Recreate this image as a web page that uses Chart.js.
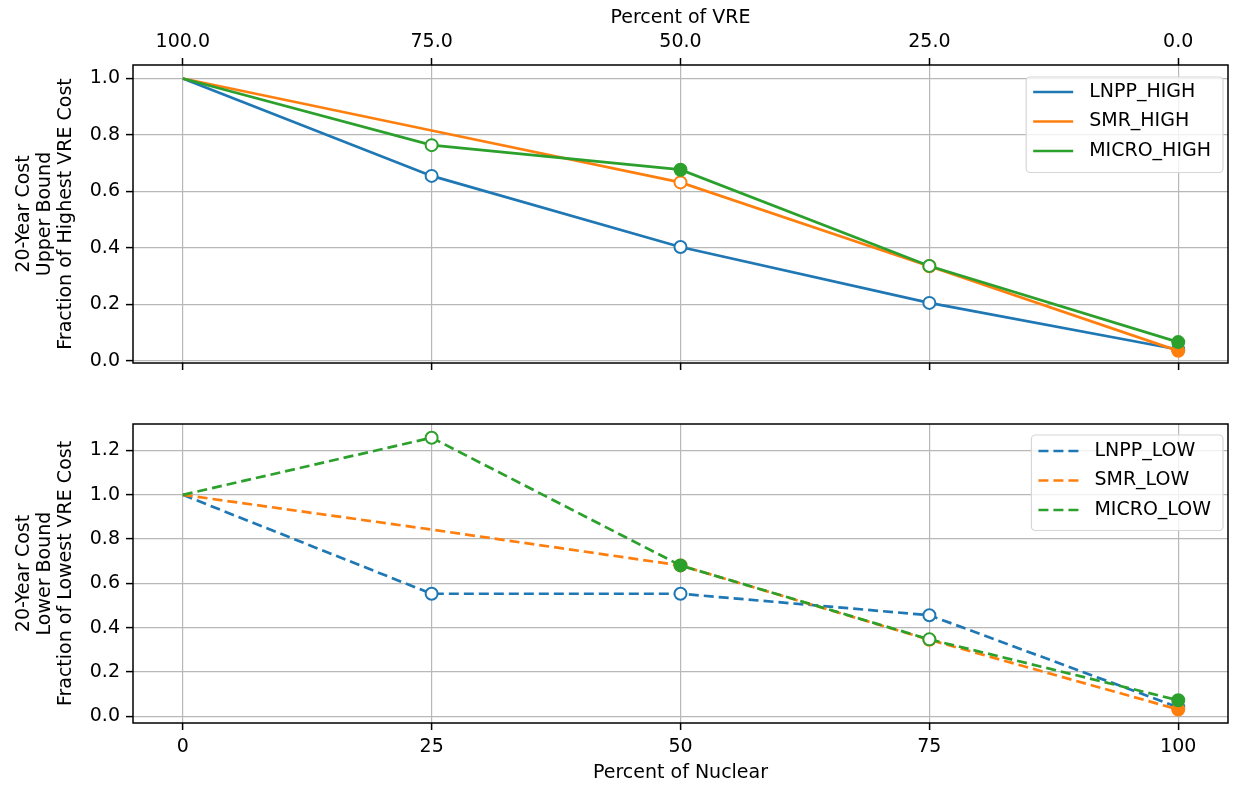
<!DOCTYPE html>
<html>
<head>
<meta charset="utf-8">
<script src="https://cdn.jsdelivr.net/npm/chart.js@4.4.1/dist/chart.umd.min.js"></script>
<style>
  html, body { margin: 0; padding: 0; background: #fff; }
  #wrap { position: relative; width: 1236px; height: 786px; }
  .panel { position: absolute; left: 0; width: 1236px; }
  #upper { top: 0; height: 390px; }
  #lower { top: 395px; height: 391px; }
</style>
</head>
<body>
<div id="wrap">
  <div class="panel" id="upper"><canvas id="upperChart"></canvas></div>
  <div class="panel" id="lower"><canvas id="lowerChart"></canvas></div>
</div>
<script>
// x positions (percent nuclear) and tick values
const nuclearPct = [0, 25, 50, 75, 100];
const xTicks = [0, 25, 50, 75, 100];
const yTicksHigh = [0, 0.2, 0.4, 0.6, 0.8, 1.0];
const yTicksLow = [0, 0.2, 0.4, 0.6, 0.8, 1.0, 1.2];

// upper bound, fraction of highest VRE cost
const lnppHigh = [1.0, 0.655, 0.403, 0.205, 0.04];
const smrHigh = [1.0, 0.816, 0.632, 0.335, 0.035];
const microHigh = [1.0, 0.764, 0.677, 0.336, 0.066];

// lower bound, fraction of lowest VRE cost
const lnppLow = [1.0, 0.553, 0.553, 0.456, 0.04];
const smrLow = [1.0, 0.843, 0.681, 0.345, 0.03];
const microLow = [1.0, 1.258, 0.681, 0.347, 0.072];

// marker per point: '' none, 'o' hollow, 'f' filled
const lnppMarks = ['', 'o', 'o', 'o', 'f'];
const smrMarks = ['', '', 'o', 'o', 'f'];
const microMarks = ['', 'o', 'f', 'o', 'f'];

const BLUE = '#1f77b4', ORANGE = '#ff7f0e', GREEN = '#2ca02c';
const GRID = '#b8b8b8';
const FAMILY = '"DejaVu Sans", sans-serif';
const FONT = {family: FAMILY, size: 19};

function series(label, values, marks, color, dashed, order) {
  return {
    label,
    data: nuclearPct.map((x, i) => ({x, y: values[i]})),
    borderColor: color,
    backgroundColor: color,
    borderWidth: 2.7,
    borderDash: dashed ? [10, 5] : [],
    pointRadius: marks.map(m => (m ? 6 : 0)),
    pointBorderWidth: 2,
    pointBorderColor: color,
    pointBackgroundColor: marks.map(m => (m === 'f' ? color : '#fff')),
    tension: 0,
    fill: false,
    order
  };
}

function fixTicks(vals) {
  return scale => { scale.ticks = vals.map(v => ({value: v})); };
}

// horizontal axes: fixed height and no extra room for edge labels
function fitX(h) {
  return s => { s.height = h; s.paddingLeft = 0; s.paddingRight = 0; };
}

// black box around the plot area
const frame = {
  id: 'frame',
  afterDatasetsDraw(chart) {
    const {ctx, chartArea: a} = chart;
    ctx.save();
    ctx.strokeStyle = '#000';
    ctx.lineWidth = 1.5;
    ctx.strokeRect(a.left, a.top, a.right - a.left, a.bottom - a.top);
    ctx.restore();
  }
};

// legend in a rounded box, upper right of the plot
const boxLegend = {
  id: 'boxLegend',
  afterDraw(chart, args, opts) {
    const {ctx, chartArea} = chart;
    const sets = chart.data.datasets;
    ctx.save();
    ctx.font = '19px ' + FAMILY;
    const textW = Math.max(...sets.map(d => ctx.measureText(d.label).width));
    const rowH = 29.5, lineLen = 40, gap = 16, padL = 7, padR = 12;
    const w = padL + lineLen + gap + textW + padR;
    const h = rowH * sets.length + 7;
    const x = chartArea.right - 5 - w;
    const y = chartArea.top + opts.top;
    ctx.beginPath();
    ctx.roundRect(x, y, w, h, 4);
    ctx.fillStyle = 'rgba(255,255,255,0.8)';
    ctx.fill();
    ctx.strokeStyle = '#d6d6d6';
    ctx.lineWidth = 1.2;
    ctx.stroke();
    sets.forEach((d, i) => {
      const cy = y + opts.first + i * rowH;
      ctx.beginPath();
      ctx.setLineDash(d.borderDash || []);
      ctx.strokeStyle = d.borderColor;
      ctx.lineWidth = d.borderWidth;
      ctx.moveTo(x + padL, cy);
      ctx.lineTo(x + padL + lineLen, cy);
      ctx.stroke();
      ctx.setLineDash([]);
      ctx.fillStyle = '#000';
      ctx.textBaseline = 'middle';
      ctx.textAlign = 'left';
      ctx.fillText(d.label, x + padL + lineLen + gap, cy);
    });
    ctx.restore();
  }
};

function yAxis(ticks, min, max, title) {
  return {
    type: 'linear', min, max,
    afterBuildTicks: fixTicks(ticks),
    ticks: {font: FONT, color: '#000', padding: 6, callback: v => v.toFixed(1)},
    grid: {color: GRID, lineWidth: 1.2, tickColor: '#000', tickLength: 7, tickWidth: 1.5},
    border: {display: false},
    title: {display: true, text: title, font: {family: FAMILY, size: 19, lineHeight: 1.1}, color: '#000', padding: {top: 14, bottom: 0}},
    afterFit: s => { s.width = 133; }
  };
}

const baseOpts = {
  responsive: true,
  maintainAspectRatio: false,
  animation: false,
  events: [],
  plugins: {legend: {display: false}, tooltip: {enabled: false}}
};

new Chart(document.getElementById('upperChart'), {
  type: 'line',
  data: {
    datasets: [
      series('LNPP_HIGH', lnppHigh, lnppMarks, BLUE, false, 3),
      series('SMR_HIGH', smrHigh, smrMarks, ORANGE, false, 2),
      series('MICRO_HIGH', microHigh, microMarks, GREEN, false, 1)
    ]
  },
  options: {
    ...baseOpts,
    layout: {padding: {right: 1}},
    plugins: {...baseOpts.plugins, boxLegend: {top: 12, first: 15}},
    scales: {
      x: {
        type: 'linear', min: -5, max: 105,
        afterBuildTicks: fixTicks(xTicks),
        ticks: {display: false},
        grid: {color: GRID, lineWidth: 1.2, tickColor: '#000', tickLength: 7, tickWidth: 1.5},
        border: {display: false},
        afterFit: fitX(27)
      },
      x2: {
        type: 'linear', position: 'top', min: -5, max: 105,
        afterBuildTicks: fixTicks(xTicks),
        ticks: {font: FONT, color: '#000', padding: 5, maxRotation: 0, autoSkip: false, callback: v => (100 - v).toFixed(1)},
        grid: {drawOnChartArea: false, tickColor: '#000', tickLength: 7, tickWidth: 1.5},
        border: {display: false},
        title: {display: true, text: 'Percent of VRE', font: FONT, color: '#000', padding: {top: 7, bottom: 0}},
        afterFit: fitX(65)
      },
      y: yAxis(yTicksHigh, -0.008, 1.048, ['20-Year Cost', 'Upper Bound', 'Fraction of Highest VRE Cost'])
    }
  },
  plugins: [frame, boxLegend]
});

new Chart(document.getElementById('lowerChart'), {
  type: 'line',
  data: {
    datasets: [
      series('LNPP_LOW', lnppLow, lnppMarks, BLUE, true, 3),
      series('SMR_LOW', smrLow, smrMarks, ORANGE, true, 2),
      series('MICRO_LOW', microLow, microMarks, GREEN, true, 1)
    ]
  },
  options: {
    ...baseOpts,
    layout: {padding: {top: 29, right: 1}},
    plugins: {...baseOpts.plugins, boxLegend: {top: 11, first: 16}},
    scales: {
      x: {
        type: 'linear', min: -5, max: 105,
        afterBuildTicks: fixTicks(xTicks),
        ticks: {font: FONT, color: '#000', padding: 6, maxRotation: 0, autoSkip: false, callback: v => String(v)},
        grid: {color: GRID, lineWidth: 1.2, tickColor: '#000', tickLength: 7, tickWidth: 1.5},
        border: {display: false},
        title: {display: true, text: 'Percent of Nuclear', font: FONT, color: '#000', padding: {top: 0, bottom: 2}},
        afterFit: fitX(63)
      },
      y: yAxis(yTicksLow, -0.031, 1.32, ['20-Year Cost', 'Lower Bound', 'Fraction of Lowest VRE Cost'])
    }
  },
  plugins: [frame, boxLegend]
});
</script>
</body>
</html>
